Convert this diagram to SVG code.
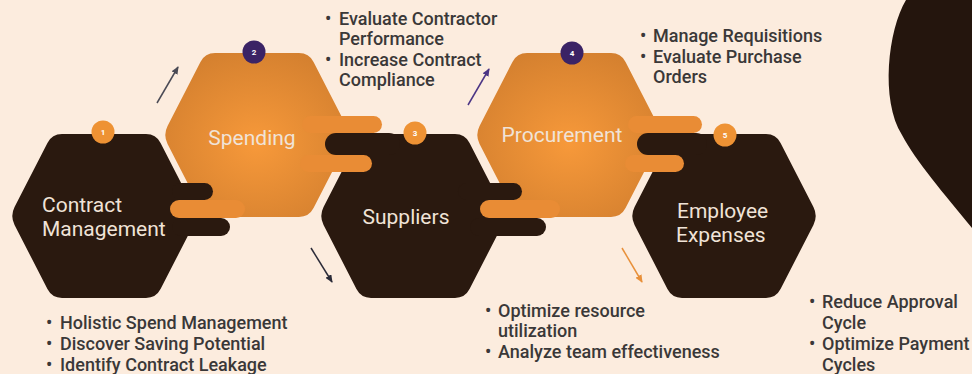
<svg xmlns="http://www.w3.org/2000/svg" width="972" height="374" viewBox="0 0 972 374">
<style>
.dark{fill:#2a190f}
.orng{fill:url(#og)}
.tabo{fill:#e98c35}
.lbl{font-family:Roboto,"Liberation Sans",sans-serif;font-size:21px;fill:#f0e3d7}
.num{font-family:Roboto,"Liberation Sans",sans-serif;font-size:8px;font-weight:700;fill:#ffffff;text-anchor:middle}
.bul{font-family:Roboto,"Liberation Sans",sans-serif;font-size:18px;font-weight:500;fill:#3a3838}
.bo{fill:#ee9234}
.bp{fill:#3b2365}
.arr{stroke-width:1.5;fill:none}
</style>
<defs>
<radialGradient id="og" cx="50%" cy="55%" r="60%">
<stop offset="0" stop-color="#f7993a"/>
<stop offset="1" stop-color="#d4802f"/>
</radialGradient>
<path id="hex" d="M -42,-82 L 42,-82 Q 52,-82 56.56,-73.1 L 89.44,-8.9 Q 94,0 89.44,8.9 L 56.56,73.1 Q 52,82 42,82 L -42,82 Q -52,82 -56.56,73.1 L -89.44,8.9 Q -94,0 -89.44,-8.9 L -56.56,-73.1 Q -52,-82 -42,-82 Z"/>
<marker id="mg" viewBox="0 0 8 7" refX="7" refY="3.5" markerWidth="8" markerHeight="7" markerUnits="userSpaceOnUse" orient="auto"><path d="M0,0 L8,3.5 L0,7 Z" fill="#4a4a55"/></marker>
<marker id="mp" viewBox="0 0 8 7" refX="7" refY="3.5" markerWidth="8" markerHeight="7" markerUnits="userSpaceOnUse" orient="auto"><path d="M0,0 L8,3.5 L0,7 Z" fill="#4b3585"/></marker>
<marker id="md" viewBox="0 0 8 7" refX="7" refY="3.5" markerWidth="8" markerHeight="7" markerUnits="userSpaceOnUse" orient="auto"><path d="M0,0 L8,3.5 L0,7 Z" fill="#2b2b38"/></marker>
<marker id="mo" viewBox="0 0 8 7" refX="7" refY="3.5" markerWidth="8" markerHeight="7" markerUnits="userSpaceOnUse" orient="auto"><path d="M0,0 L8,3.5 L0,7 Z" fill="#e8903a"/></marker>
</defs>
<rect width="972" height="374" fill="#fcecde"/>
<path d="M906,0 C888,30 880,100 902,135 C915,160 945,195 972,228 L972,0 Z" fill="#24150d"/>

<g id="node-spending">
<use href="#hex" x="257" y="135" class="orng"/>
<text class="lbl" x="252" y="145" text-anchor="middle">Spending</text>
</g>
<g id="node-procurement">
<use href="#hex" x="569" y="135" class="orng"/>
<text class="lbl" x="562" y="142" text-anchor="middle">Procurement</text>
</g>
<g id="node-contract">
<use href="#hex" x="104" y="216" class="dark"/>
<text class="lbl" x="42" y="212">Contract</text>
<text class="lbl" x="42" y="236">Management</text>
</g>
<g id="node-suppliers">
<use href="#hex" x="413" y="216" class="dark"/>
<text class="lbl" x="406" y="224" text-anchor="middle">Suppliers</text>
</g>
<g id="node-expenses">
<use href="#hex" x="724" y="216" class="dark"/>
<text class="lbl" x="677" y="218">Employee</text>
<text class="lbl" x="676" y="242">Expenses</text>
</g>

<g id="tabs">
<rect class="dark" x="172" y="183" width="41" height="17" rx="8.5"/>
<rect class="tabo" x="170" y="200" width="75" height="18" rx="9"/>
<rect class="dark" x="172" y="218" width="58" height="18" rx="9"/>
<rect class="tabo" x="302" y="116" width="80" height="17" rx="8.5"/>
<rect class="dark" x="325" y="133" width="75" height="22" rx="11"/>
<rect class="tabo" x="300" y="155" width="72" height="17" rx="8.5"/>
<rect class="dark" x="458" y="183" width="64" height="17" rx="8.5"/>
<rect class="tabo" x="480" y="200" width="80" height="18" rx="9"/>
<rect class="dark" x="470" y="218" width="76" height="18" rx="9"/>
<rect class="tabo" x="628" y="116" width="74" height="17" rx="8.5"/>
<rect class="dark" x="637" y="133" width="70" height="22" rx="11"/>
<rect class="tabo" x="625" y="155" width="59" height="17" rx="8.5"/>
</g>

<g id="badges">
<circle class="bo" cx="103" cy="132" r="11.5"/><text class="num" x="103" y="135">1</text>
<circle class="bp" cx="254" cy="52" r="11.5"/><text class="num" x="254" y="55">2</text>
<circle class="bo" cx="415" cy="133" r="11.5"/><text class="num" x="415" y="136">3</text>
<circle class="bp" cx="572" cy="53" r="11.5"/><text class="num" x="572" y="56">4</text>
<circle class="bo" cx="725" cy="135" r="11.5"/><text class="num" x="725" y="138">5</text>
</g>

<g id="connectors">
<line class="arr" x1="157" y1="103" x2="178" y2="67" stroke="#4a4a55" marker-end="url(#mg)"/>
<line class="arr" x1="468" y1="105" x2="489" y2="69" stroke="#4b3585" marker-end="url(#mp)"/>
<line class="arr" x1="311" y1="248" x2="332" y2="282" stroke="#2b2b38" marker-end="url(#md)"/>
<line class="arr" x1="622" y1="248" x2="642" y2="282" stroke="#e8903a" marker-end="url(#mo)"/>
</g>

<g id="notes">
<text class="bul" x="46" y="329">•</text><text class="bul" x="60" y="329">Holistic Spend Management</text>
<text class="bul" x="46" y="350">•</text><text class="bul" x="60" y="350">Discover Saving Potential</text>
<text class="bul" x="46" y="371">•</text><text class="bul" x="60" y="371">Identify Contract Leakage</text>

<text class="bul" x="325" y="25">•</text><text class="bul" x="339" y="25">Evaluate Contractor</text>
<text class="bul" x="339" y="45">Performance</text>
<text class="bul" x="325" y="66">•</text><text class="bul" x="339" y="66">Increase Contract</text>
<text class="bul" x="339" y="86">Compliance</text>

<text class="bul" x="640" y="42">•</text><text class="bul" x="653" y="42">Manage Requisitions</text>
<text class="bul" x="640" y="63">•</text><text class="bul" x="653" y="63">Evaluate Purchase</text>
<text class="bul" x="653" y="83">Orders</text>

<text class="bul" x="485" y="317">•</text><text class="bul" x="498" y="317">Optimize resource</text>
<text class="bul" x="498" y="337">utilization</text>
<text class="bul" x="485" y="358">•</text><text class="bul" x="498" y="358">Analyze team effectiveness</text>

<text class="bul" x="809" y="308">•</text><text class="bul" x="822" y="308">Reduce Approval</text>
<text class="bul" x="822" y="329">Cycle</text>
<text class="bul" x="809" y="350">•</text><text class="bul" x="822" y="350">Optimize Payment</text>
<text class="bul" x="822" y="371">Cycles</text>
</g>
</svg>
